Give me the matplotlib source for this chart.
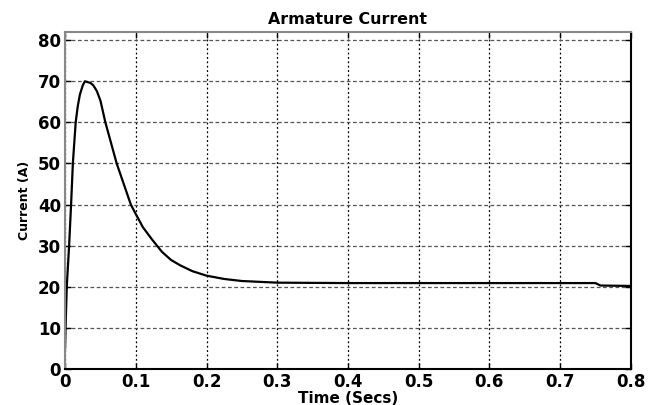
import matplotlib
matplotlib.use("Agg")
import matplotlib.pyplot as plt

# values
time_s = [0, 0.001, 0.0024, 0.0057, 0.0085, 0.011, 0.015, 0.018, 0.021, 0.025, 0.028,
          0.032, 0.036, 0.040, 0.045, 0.050, 0.057, 0.065, 0.073, 0.083, 0.093, 0.100,
          0.110, 0.123, 0.137, 0.150, 0.163, 0.18, 0.2, 0.225, 0.25, 0.3, 0.4, 0.5,
          0.6, 0.7, 0.75, 0.757, 0.8]
current_a = [5, 12, 20, 30, 40, 50, 60, 64, 66.8, 69, 70,
             69.8, 69.6, 69.0, 67.6, 65.3, 60, 55, 50, 45, 40, 37.7,
             34.5, 31.5, 28.5, 26.5, 25.2, 23.8, 22.7, 21.9, 21.4, 21, 20.9, 20.9,
             20.9, 20.9, 20.9, 20.3, 20.2]
xticks = [0, 0.1, 0.2, 0.3, 0.4, 0.5, 0.6, 0.7, 0.8]
xtick_labels = ["0", "0.1", "0.2", "0.3", "0.4", "0.5", "0.6", "0.7", "0.8"]
yticks = [0, 10, 20, 30, 40, 50, 60, 70, 80]

fig = plt.figure(figsize=(6.64, 4.05), dpi=100)
ax = fig.add_axes([0.098, 0.089, 0.852, 0.832])

ax.plot(time_s, current_a, color="black", lw=1.6)

ax.set_xlim(0, 0.8)
ax.set_ylim(0, 82)
ax.set_xticks(xticks)
ax.set_xticklabels(xtick_labels)
ax.set_yticks(yticks)

ax.grid(axis="x", color="black", linestyle=(0, (1.5, 2)), lw=0.9)
ax.grid(axis="y", color="#555555", linestyle=(0, (3, 2)), lw=0.9)

for lab in ax.get_xticklabels() + ax.get_yticklabels():
    lab.set_fontweight("bold")
    lab.set_fontsize(12)
ax.tick_params(direction="in", length=4, width=1, pad=3, top=True, right=True)

ax.spines["left"].set_color("#888888")
ax.spines["top"].set_color("#888888")
ax.spines["right"].set_color("black")
ax.spines["bottom"].set_color("black")
for s in ax.spines.values():
    s.set_linewidth(1.5)

ax.set_title("Armature Current", fontsize=11.4, fontweight="bold", pad=6)
ax.set_xlabel("Time (Secs)", fontsize=11, fontweight="bold", labelpad=0)
ax.set_ylabel("Current (A)", fontsize=9, fontweight="bold", labelpad=5)

fig.savefig("out.png", dpi=100)
